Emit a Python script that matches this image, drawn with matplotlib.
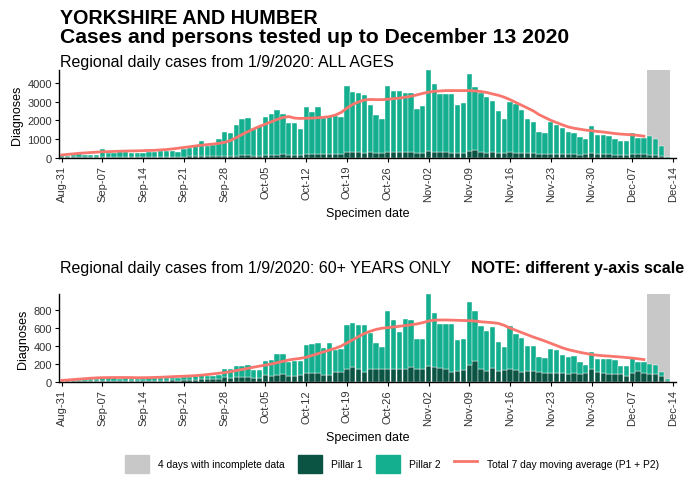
import matplotlib
matplotlib.use('Agg')
import matplotlib.pyplot as plt
from matplotlib.patches import Patch
from matplotlib.lines import Line2D

plt.rcParams['font.family'] = ['Liberation Sans', 'DejaVu Sans']

# days from Aug 31 to Dec 13 2020 (index 0..104)
tick_days = [0, 7, 14, 21, 28, 35, 42, 49, 56, 63, 70, 77, 84, 91, 98, 105]
tick_labels = ['Aug-31', 'Sep-07', 'Sep-14', 'Sep-21', 'Sep-28', 'Oct-05', 'Oct-12',
               'Oct-19', 'Oct-26', 'Nov-02', 'Nov-09', 'Nov-16', 'Nov-23', 'Nov-30',
               'Dec-07', 'Dec-14']

# ALL AGES
all_p1 = [40, 35, 40, 45, 45, 40, 40,
          50, 50, 55, 55, 55, 50, 45,
          55, 60, 60, 65, 65, 60, 60,
          75, 80, 85, 90, 85, 85, 95,
          120, 120, 130, 140, 135, 110, 120,
          170, 175, 185, 190, 160, 160, 165,
          210, 220, 230, 200, 200, 230, 230,
          310, 330, 320, 290, 300, 270, 250,
          330, 340, 330, 320, 330, 280, 290,
          360, 330, 320, 300, 270, 260, 280,
          380, 400, 310, 290, 300, 250, 260,
          300, 280, 260, 260, 250, 230, 220,
          230, 220, 210, 200, 210, 180, 190,
          260, 220, 200, 190, 180, 170, 150,
          210, 230, 190, 180, 160, 120, 20]
all_p2 = [110, 95, 120, 145, 135, 130, 140,
          450, 210, 225, 245, 245, 210, 205,
          225, 240, 270, 295, 315, 300, 280,
          405, 470, 535, 810, 565, 615, 905,
          1280, 1230, 1620, 1910, 1965, 1440, 1580,
          2030, 2175, 2365, 2160, 1690, 1690, 1385,
          2490, 2230, 2470, 1900, 2050, 2020, 1970,
          3490, 3170, 3110, 3050, 2510, 2020, 1830,
          3480, 3210, 3220, 3110, 3100, 2310, 2470,
          4290, 3590, 3070, 3090, 3120, 2550, 2620,
          4060, 3380, 3120, 2960, 2740, 2220, 1820,
          2650, 2570, 2290, 1820, 1650, 1150, 1110,
          1670, 1550, 1380, 1180, 1120, 920, 840,
          1450, 1020, 1000, 960, 850, 720, 740,
          1140, 850, 890, 970, 840, 530, 40]
# 7 day moving average, Aug 31 .. Dec 9
all_avg = [160, 190, 220, 250, 270, 290, 310,
           330, 340, 350, 360, 370, 375, 380,
           390, 400, 410, 430, 450, 480, 520,
           560, 600, 640, 680, 710, 740, 780,
           830, 930, 1080, 1250, 1400, 1550, 1680,
           1800, 1920, 2050, 2150, 2200, 2120, 2100,
           2110, 2120, 2140, 2160, 2200, 2280, 2420,
           2650, 2850, 2980, 3080, 3110, 3100, 3100,
           3120, 3150, 3180, 3230, 3280, 3350, 3430,
           3500, 3540, 3560, 3580, 3580, 3580, 3580,
           3580, 3560, 3530, 3480, 3400, 3330, 3230,
           3100, 2950, 2800, 2650, 2500, 2300, 2150,
           2000, 1880, 1760, 1650, 1580, 1530, 1480,
           1450, 1410, 1380, 1340, 1300, 1270, 1250,
           1230, 1200, 1160]

# 60+ YEARS ONLY
old_p1 = [5, 6, 8, 8, 10, 10, 8,
          12, 10, 10, 10, 12, 10, 8,
          12, 15, 15, 15, 15, 18, 15,
          20, 22, 25, 30, 28, 28, 30,
          55, 50, 60, 60, 55, 45, 50,
          75, 70, 80, 85, 65, 70, 75,
          95, 100, 105, 80, 80, 110, 110,
          140, 165, 150, 110, 140, 150, 150,
          150, 150, 150, 140, 165, 140, 150,
          180, 165, 155, 140, 115, 120, 135,
          190, 230, 140, 125, 155, 120, 130,
          140, 133, 114, 125, 125, 114, 103,
          105, 103, 96, 92, 105, 85, 95,
          140, 114, 96, 92, 88, 85, 66,
          103, 125, 96, 92, 85, 66, 15]
old_p2 = [10, 14, 14, 17, 18, 20, 20,
          38, 32, 30, 28, 28, 25, 22,
          23, 25, 27, 30, 33, 32, 30,
          35, 36, 37, 45, 42, 44, 50,
          95, 100, 120, 120, 133, 88, 83,
          161, 180, 226, 221, 160, 166, 161,
          315, 328, 330, 300, 355, 244, 252,
          491, 495, 488, 528, 400, 285, 241,
          636, 536, 410, 565, 521, 336, 326,
          794, 603, 495, 510, 535, 352, 348,
          700, 560, 484, 440, 457, 326, 261,
          480, 406, 380, 273, 273, 166, 159,
          264, 251, 203, 188, 183, 140, 93,
          190, 137, 155, 159, 155, 96, 115,
          167, 100, 129, 107, 103, 48, 15]
old_avg = [18, 22, 27, 32, 37, 42, 46,
           48, 49, 50, 50, 50, 49, 48,
           48, 49, 51, 53, 56, 59, 62,
           64, 67, 71, 76, 83, 90, 98,
           105, 115, 127, 140, 152, 165, 177,
           188, 200, 215, 230, 245, 255, 263,
           275, 295, 315, 335, 355, 375, 400,
           435, 470, 505, 540, 565, 585, 598,
           605, 612, 620, 628, 636, 646, 660,
           678, 688, 690, 690, 688, 686, 684,
           682, 678, 670, 665, 660, 652, 630,
           600, 575, 550, 525, 500, 478, 455,
           430, 405, 380, 360, 345, 330, 318,
           305, 298, 292, 288, 283, 278, 272,
           266, 258, 250]

c_p1 = '#0B5443'
c_p2 = '#14AF8F'
c_avg = '#F8766D'
c_grey = '#C8C8C8'

W, H = 686, 485
fig = plt.figure(figsize=(W / 100, H / 100), dpi=100)


def px_axes(x0, y0, x1, y1):
    return fig.add_axes([x0 / W, 1 - y1 / H, (x1 - x0) / W, (y1 - y0) / H])


def draw_panel(ax, p1, p2, avg, yticks):
    days = list(range(len(p1)))
    top = max(a + b for a, b in zip(p1, p2))
    # last 4 days (Dec 10-13) incomplete
    ax.axvspan(100.5, 104.5, color=c_grey, lw=0, zorder=0)
    ax.bar(days, p1, width=0.92, color=c_p1, edgecolor='white', linewidth=0.3, zorder=2)
    ax.bar(days, p2, width=0.92, bottom=p1, color=c_p2, edgecolor='white', linewidth=0.3, zorder=2)
    ax.plot(range(len(avg)), avg, color=c_avg, lw=2.0, zorder=3)
    ax.set_xlim(-0.45, 105.5)
    ax.set_ylim(0, top * 1.005)
    ax.set_yticks(yticks)
    ax.set_xticks(tick_days)
    ax.set_xticklabels(tick_labels, rotation=90, fontsize=8, color='#333333')
    ax.tick_params(axis='y', labelsize=8, labelcolor='#333333', length=3, pad=2)
    ax.tick_params(axis='x', length=3, pad=2)
    for s in ['top', 'right']:
        ax.spines[s].set_visible(False)
    ax.spines['left'].set_linewidth(1.0)
    ax.spines['bottom'].set_linewidth(1.0)
    ax.set_ylabel('Diagnoses', fontsize=9, labelpad=3)
    ax.set_xlabel('Specimen date', fontsize=9, labelpad=4)


ax1 = px_axes(59, 71, 676, 159)
draw_panel(ax1, all_p1, all_p2, all_avg, [0, 1000, 2000, 3000, 4000])
ax2 = px_axes(59, 295, 676, 383)
draw_panel(ax2, old_p1, old_p2, old_avg, [0, 200, 400, 600, 800])

fig.text(60 / W, 1 - 18 / H, 'YORKSHIRE AND HUMBER', fontsize=14.2, fontweight='bold', va='center')
fig.text(60 / W, 1 - 38 / H, 'Cases and persons tested up to December 13 2020', fontsize=15.2,
         fontweight='bold', va='center')
fig.text(60 / W, 1 - 62 / H, 'Regional daily cases from 1/9/2020: ALL AGES', fontsize=11.5, va='center')
fig.text(60 / W, 1 - 268 / H, 'Regional daily cases from 1/9/2020: 60+ YEARS ONLY', fontsize=11.5, va='center')
fig.text(684 / W, 1 - 268 / H, 'NOTE: different y-axis scale', fontsize=11.5, fontweight='bold',
         va='center', ha='right')

handles = [Patch(color=c_grey), Patch(color=c_p1), Patch(color=c_p2), Line2D([], [], color=c_avg, lw=2.0)]
labels = ['4 days with incomplete data', 'Pillar 1', 'Pillar 2', 'Total 7 day moving average (P1 + P2)']
fig.legend(handles, labels, loc='center', bbox_to_anchor=(392 / W, 1 - 465 / H), ncol=4, frameon=False,
           fontsize=7.4, handlelength=2.3, handleheight=2.3, columnspacing=1.3, handletextpad=0.9)

fig.savefig('out.png', dpi=100)
